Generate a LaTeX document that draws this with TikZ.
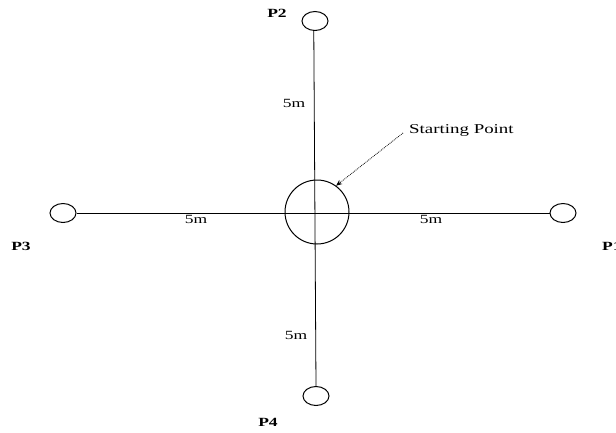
\documentclass[tikz,border=0pt]{standalone}
\usepackage{fontspec}
\setmainfont{Liberation Serif}
\usetikzlibrary{shapes.geometric,arrows.meta}
\newcommand\stretchtxt[1]{\scalebox{1.4}[1]{#1}}
\begin{document}
\begin{tikzpicture}[x=1pt,y=-1pt,
  endpt/.style={draw,ellipse,minimum width=26pt,minimum height=19pt,inner sep=0pt,line width=1pt},
  startpt/.style={draw,circle,minimum size=64pt,inner sep=0pt,line width=1pt},
  plabel/.style={inner sep=0pt,font=\fontsize{12.5}{14}\selectfont\bfseries},
  dlabel/.style={inner sep=0pt,font=\fontsize{12.5}{14}\selectfont},
  conn/.style={line width=0.8pt}
]
\useasboundingbox (0,0) rectangle (616,432);
\node[endpt] (p2) at (315,21) {};
\node[endpt] (p3) at (63,213) {};
\node[endpt] (p1) at (563,213) {};
\node[endpt] (p4) at (316,396) {};
\node[startpt] (s) at (317,212) {};
\draw[conn] (p3.east) -- (p1.west);
\draw[conn] (p2.263) -- (p4.north);
\node[plabel] (l2) at (277,13) {\stretchtxt{P2}};
\node[plabel] (l3) at (21,246) {\stretchtxt{P3}};
\node[plabel,anchor=west] (l1) at (602,246.5) {\stretchtxt{P1}};
\node[plabel] (l4) at (268,422) {\stretchtxt{P4}};
\node[dlabel] (d2) at (294,103) {\stretchtxt{5m}};
\node[dlabel] (d3) at (196,219) {\stretchtxt{5m}};
\node[dlabel] (d1) at (431,219) {\stretchtxt{5m}};
\node[dlabel] (d4) at (296,335) {\stretchtxt{5m}};
\node[dlabel,anchor=west,font=\fontsize{13.5}{15}\selectfont] (sp) at (409,130) {\stretchtxt{Starting Point}};
\draw[line width=0.8pt,densely dotted,-{Stealth[length=6pt,width=5pt]}] ([xshift=-6pt,yshift=-3pt]sp.west) -- (s.54);
\end{tikzpicture}
\end{document}
